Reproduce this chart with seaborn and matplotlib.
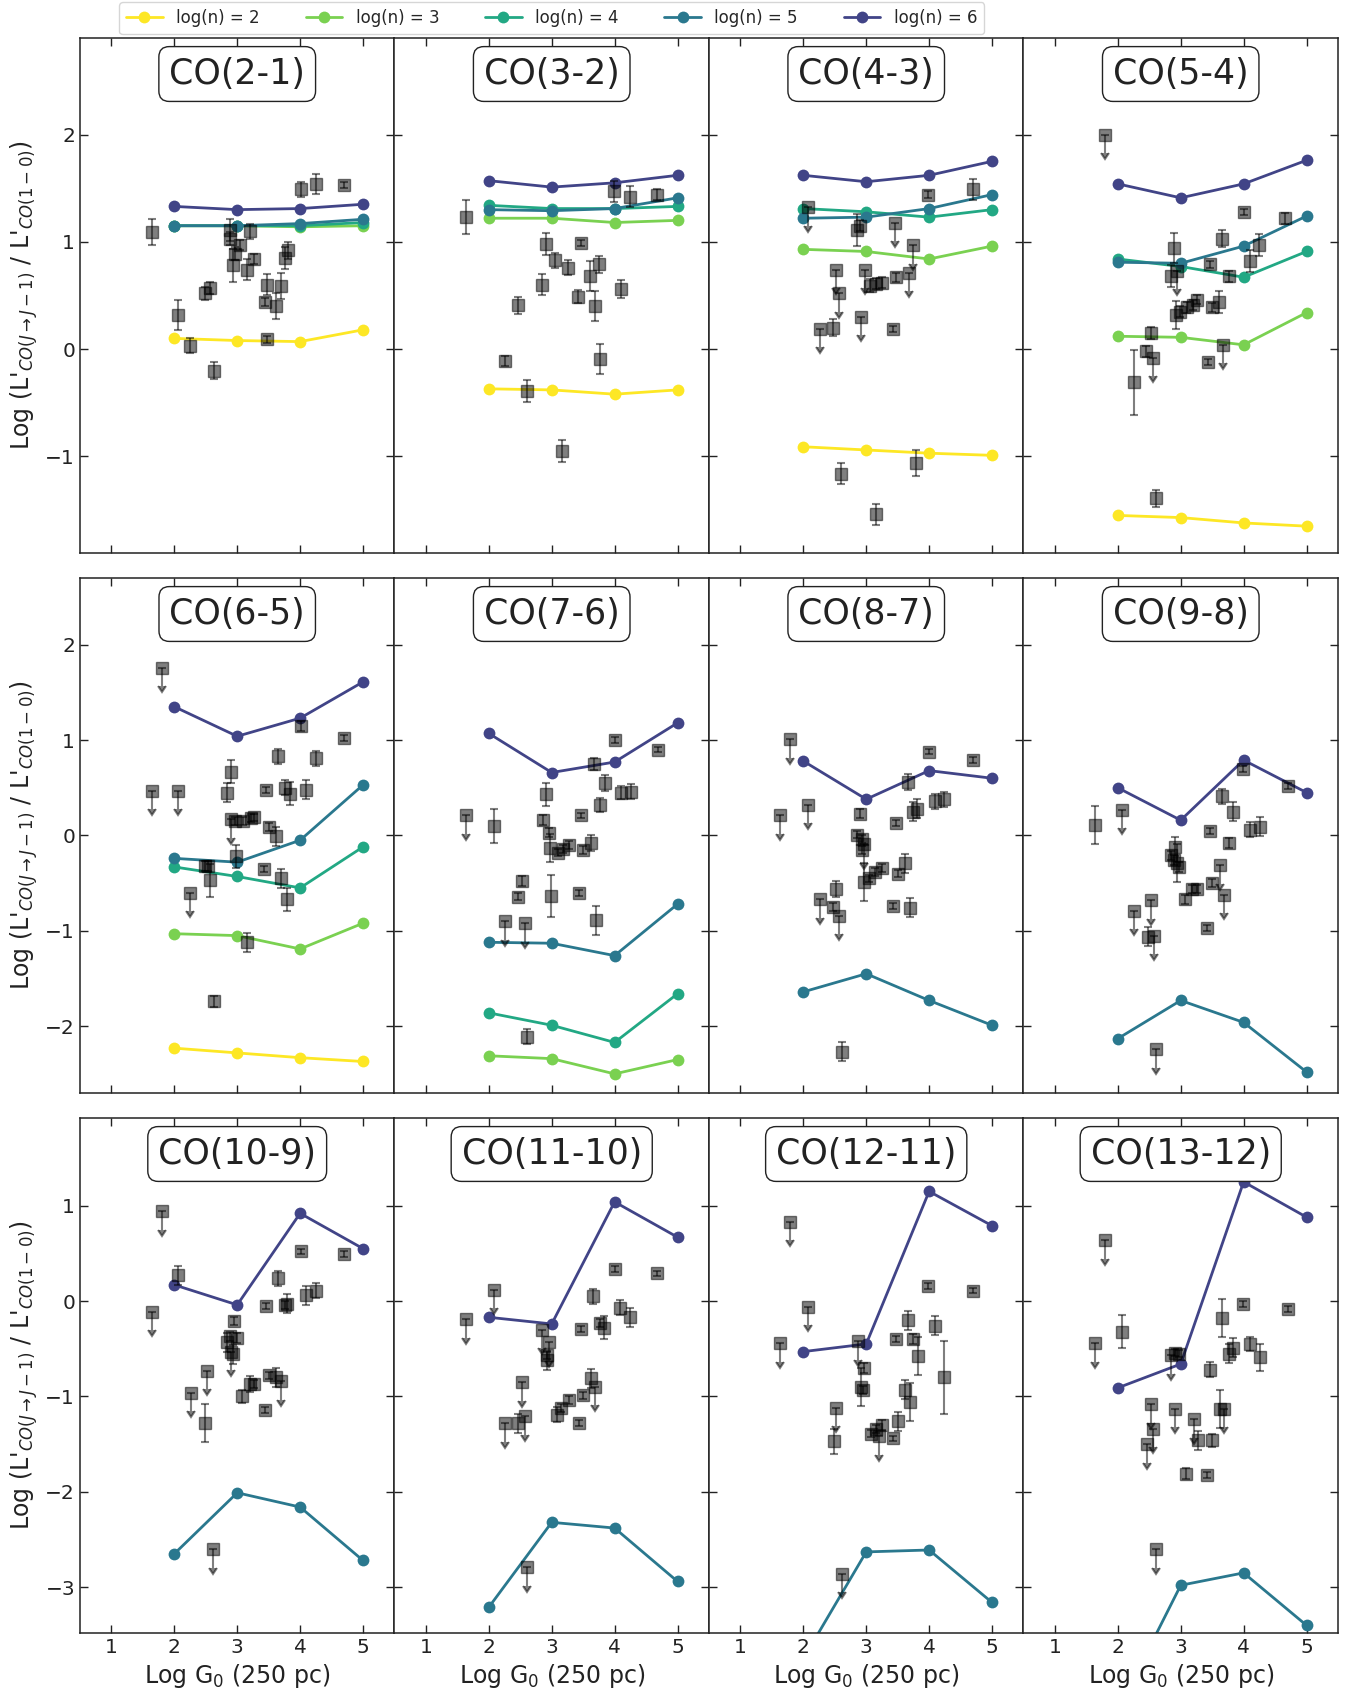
import numpy as np
import pandas as pd
import matplotlib
matplotlib.use('Agg')
import matplotlib.pyplot as plt
import seaborn as sns
from matplotlib.lines import Line2D
from matplotlib.ticker import MultipleLocator

# ==========================================
# DATA
# ==========================================
G0_GRID = [2, 3, 4, 5]          # model grid, Log G0
DENSITIES = [2, 3, 4, 5, 6]     # log(n)

# observed points: (log G0, log ratio, error, upper limit flag)
OBS_CO21 = [
    (1.64, 1.09, 0.12, 0), (2.06, 0.32, 0.14, 0), (2.25, 0.03, 0.07, 0),
    (2.48, 0.52, 0.06, 0), (2.56, 0.57, 0.06, 0), (2.63, -0.20, 0.08, 0),
    (2.88, 1.11, 0.10, 0), (2.89, 1.03, 0.06, 0), (2.93, 0.78, 0.15, 0),
    (2.97, 0.89, 0.06, 0), (3.04, 0.97, 0.05, 0), (3.15, 0.74, 0.10, 0),
    (3.20, 1.10, 0.07, 0), (3.26, 0.84, 0.05, 0), (3.44, 0.44, 0.04, 0),
    (3.48, 0.09, 0.03, 0), (3.48, 0.60, 0.10, 0), (3.61, 0.40, 0.12, 0),
    (3.69, 0.59, 0.12, 0), (3.76, 0.85, 0.10, 0), (3.80, 0.92, 0.08, 0),
    (4.01, 1.49, 0.07, 0), (4.25, 1.54, 0.09, 0), (4.69, 1.53, 0.03, 0),
]
OBS_CO32 = [
    (1.63, 1.23, 0.16, 0), (2.26, -0.11, 0.05, 0), (2.46, 0.41, 0.08, 0),
    (2.61, -0.39, 0.10, 0), (2.85, 0.60, 0.10, 0), (2.91, 0.98, 0.10, 0),
    (3.06, 0.83, 0.07, 0), (3.16, -0.95, 0.10, 0), (3.26, 0.76, 0.07, 0),
    (3.42, 0.49, 0.06, 0), (3.46, 0.99, 0.03, 0), (3.61, 0.68, 0.14, 0),
    (3.69, 0.40, 0.14, 0), (3.75, 0.79, 0.08, 0), (3.77, -0.09, 0.14, 0),
    (3.99, 1.47, 0.10, 0), (4.10, 0.56, 0.08, 0), (4.25, 1.42, 0.10, 0),
    (4.68, 1.44, 0.05, 0),
]
OBS_CO43 = [
    (2.08, 1.32, 0, 1), (2.26, 0.19, 0, 1), (2.47, 0.20, 0.08, 0),
    (2.52, 0.74, 0, 1), (2.56, 0.52, 0, 1), (2.60, -1.16, 0.10, 0),
    (2.86, 1.11, 0.15, 0), (2.90, 1.15, 0.05, 0), (2.92, 0.30, 0, 1),
    (2.98, 0.74, 0, 1), (3.06, 0.59, 0.06, 0), (3.15, 0.61, 0.05, 0),
    (3.25, 0.62, 0.05, 0), (3.16, -1.54, 0.10, 0), (3.43, 0.19, 0.03, 0),
    (3.46, 1.18, 0, 1), (3.48, 0.67, 0.04, 0), (3.68, 0.71, 0, 1),
    (3.75, 0.97, 0, 1), (3.79, -1.06, 0.12, 0), (3.99, 1.44, 0.03, 0),
    (4.69, 1.49, 0.10, 0),
]
OBS_CO54 = [
    (1.79, 2.00, 0, 1), (2.25, -0.31, 0.30, 0), (2.45, -0.02, 0.05, 0),
    (2.53, 0.15, 0.06, 0), (2.56, -0.08, 0, 1), (2.60, -1.39, 0.08, 0),
    (2.90, 0.94, 0.14, 0), (2.85, 0.68, 0.10, 0), (2.94, 0.73, 0, 1),
    (2.93, 0.32, 0.13, 0), (2.99, 0.35, 0.05, 0), (3.10, 0.39, 0.05, 0),
    (3.19, 0.41, 0.05, 0), (3.26, 0.46, 0.04, 0), (3.43, -0.12, 0.03, 0),
    (3.47, 0.79, 0.03, 0), (3.49, 0.39, 0.04, 0), (3.61, 0.44, 0.10, 0),
    (3.66, 1.03, 0.08, 0), (3.68, 0.04, 0, 1), (3.76, 0.68, 0.05, 0),
    (4.00, 1.28, 0.03, 0), (4.10, 0.82, 0.10, 0), (4.25, 0.97, 0.10, 0),
    (4.66, 1.22, 0.05, 0),
]
OBS_CO65 = [
    (1.80, 1.76, 0, 1), (1.64, 0.47, 0, 1), (2.06, 0.47, 0, 1),
    (2.25, -0.60, 0, 1), (2.48, -0.32, 0.05, 0), (2.53, -0.32, 0.05, 0),
    (2.56, -0.47, 0.17, 0), (2.63, -1.74, 0.06, 0), (2.84, 0.45, 0.10, 0),
    (2.90, 0.67, 0.12, 0), (2.90, 0.17, 0, 1), (2.96, 0.15, 0.04, 0),
    (2.98, -0.22, 0.12, 0), (3.09, 0.15, 0.04, 0), (3.16, -1.12, 0.10, 0),
    (3.22, 0.18, 0.04, 0), (3.27, 0.19, 0.04, 0), (3.43, -0.35, 0.03, 0),
    (3.46, 0.48, 0.03, 0), (3.51, 0.09, 0.04, 0), (3.61, -0.01, 0.10, 0),
    (3.65, 0.83, 0.08, 0), (3.70, -0.45, 0.10, 0), (3.76, 0.50, 0.08, 0),
    (3.79, -0.67, 0.12, 0), (3.84, 0.44, 0.12, 0), (4.01, 1.15, 0.05, 0),
    (4.10, 0.48, 0.10, 0), (4.25, 0.81, 0.08, 0), (4.69, 1.02, 0.03, 0),
]
OBS_CO76 = [
    (1.64, 0.21, 0, 1), (2.09, 0.10, 0.18, 0), (2.26, -0.90, 0, 1),
    (2.53, -0.48, 0.05, 0), (2.47, -0.64, 0.04, 0), (2.57, -0.92, 0, 1),
    (2.61, -2.11, 0.08, 0), (2.86, 0.16, 0.05, 0), (2.91, 0.43, 0.12, 0),
    (2.95, 0.03, 0.05, 0), (2.97, -0.13, 0.15, 0), (2.99, -0.63, 0.22, 0),
    (3.10, -0.18, 0.04, 0), (3.18, -0.14, 0.04, 0), (3.27, -0.10, 0.04, 0),
    (3.43, -0.60, 0.03, 0), (3.47, 0.21, 0.03, 0), (3.49, -0.15, 0.04, 0),
    (3.62, -0.08, 0.08, 0), (3.67, 0.75, 0.06, 0), (3.70, -0.89, 0.15, 0),
    (3.76, 0.32, 0.07, 0), (3.84, 0.55, 0.08, 0), (4.01, 1.00, 0.03, 0),
    (4.10, 0.45, 0.07, 0), (4.26, 0.46, 0.08, 0), (4.69, 0.90, 0.03, 0),
]
OBS_CO87 = [
    (1.79, 1.01, 0, 1), (1.63, 0.21, 0, 1), (2.07, 0.32, 0, 1),
    (2.26, -0.67, 0, 1), (2.47, -0.75, 0.04, 0), (2.52, -0.56, 0.08, 0),
    (2.56, -0.84, 0, 1), (2.61, -2.27, 0.10, 0), (2.90, 0.23, 0.05, 0),
    (2.86, 0.01, 0.04, 0), (2.93, -0.04, 0.04, 0), (2.96, -0.09, 0, 1),
    (2.93, -0.15, 0.04, 0), (2.96, -0.49, 0.20, 0), (3.05, -0.45, 0.04, 0),
    (3.14, -0.38, 0.04, 0), (3.25, -0.34, 0.04, 0), (3.42, -0.74, 0.03, 0),
    (3.48, 0.13, 0.03, 0), (3.50, -0.40, 0.04, 0), (3.62, -0.29, 0.10, 0),
    (3.66, 0.56, 0.08, 0), (3.69, -0.76, 0.10, 0), (3.75, 0.25, 0.10, 0),
    (3.81, 0.28, 0.10, 0), (4.00, 0.88, 0.03, 0), (4.10, 0.36, 0.08, 0),
    (4.24, 0.38, 0.08, 0), (4.69, 0.79, 0.03, 0),
]
OBS_CO98 = [
    (1.63, 0.11, 0.20, 0), (2.07, 0.27, 0, 1), (2.26, -0.79, 0, 1),
    (2.52, -0.68, 0, 1), (2.48, -1.06, 0.10, 0), (2.57, -1.05, 0, 1),
    (2.61, -2.24, 0, 1), (2.84, -0.21, 0.05, 0), (2.91, -0.12, 0.10, 0),
    (2.94, -0.29, 0.20, 0), (2.89, -0.26, 0.05, 0), (2.97, -0.33, 0.05, 0),
    (3.07, -0.67, 0.05, 0), (3.18, -0.56, 0.04, 0), (3.26, -0.56, 0.04, 0),
    (3.42, -0.97, 0.03, 0), (3.46, 0.05, 0.03, 0), (3.49, -0.50, 0.04, 0),
    (3.62, -0.31, 0, 1), (3.65, 0.41, 0.08, 0), (3.69, -0.62, 0, 1),
    (3.76, -0.08, 0.05, 0), (3.83, 0.25, 0.10, 0), (3.99, 0.70, 0.03, 0),
    (4.10, 0.06, 0.08, 0), (4.26, 0.09, 0.10, 0), (4.70, 0.52, 0.03, 0),
]
OBS_CO109 = [
    (1.80, 0.94, 0, 1), (1.64, -0.11, 0, 1), (2.06, 0.27, 0.10, 0),
    (2.26, -0.96, 0, 1), (2.52, -0.73, 0, 1), (2.48, -1.28, 0.20, 0),
    (2.61, -2.60, 0, 1), (2.84, -0.43, 0.10, 0), (2.89, -0.37, 0.05, 0),
    (2.93, -0.56, 0.10, 0), (2.95, -0.21, 0.04, 0), (3.00, -0.39, 0.05, 0),
    (2.90, -0.53, 0, 1), (3.08, -1.00, 0.07, 0), (3.20, -0.87, 0.08, 0),
    (3.26, -0.87, 0.04, 0), (3.44, -1.14, 0.03, 0), (3.46, -0.05, 0.03, 0),
    (3.50, -0.78, 0.04, 0), (3.61, -0.80, 0.10, 0), (3.65, 0.24, 0.08, 0),
    (3.70, -0.84, 0, 1), (3.76, -0.04, 0.04, 0), (3.79, -0.03, 0.10, 0),
    (4.01, 0.52, 0.03, 0), (4.09, 0.06, 0.10, 0), (4.25, 0.11, 0.08, 0),
    (4.69, 0.49, 0.03, 0),
]
OBS_CO1110 = [
    (1.64, -0.19, 0, 1), (2.08, 0.12, 0, 1), (2.26, -1.28, 0, 1),
    (2.46, -1.28, 0.10, 0), (2.53, -0.85, 0, 1), (2.58, -1.21, 0, 1),
    (2.61, -2.79, 0, 1), (2.85, -0.30, 0, 1), (2.96, -0.43, 0, 1),
    (2.92, -0.62, 0.10, 0), (2.93, -0.57, 0.04, 0), (3.08, -1.19, 0.08, 0),
    (3.14, -1.12, 0.04, 0), (3.27, -1.04, 0.04, 0), (3.43, -1.28, 0.03, 0),
    (3.46, -0.29, 0.03, 0), (3.49, -0.99, 0.04, 0), (3.63, -0.81, 0.10, 0),
    (3.65, 0.05, 0.08, 0), (3.69, -0.90, 0, 1), (3.76, -0.23, 0.04, 0),
    (3.83, -0.28, 0.12, 0), (4.00, 0.34, 0.03, 0), (4.08, -0.07, 0.08, 0),
    (4.24, -0.17, 0.10, 0), (4.68, 0.29, 0.03, 0),
]
OBS_CO1211 = [
    (1.79, 0.83, 0, 1), (1.63, -0.44, 0, 1), (2.07, -0.06, 0, 1),
    (2.48, -1.47, 0.13, 0), (2.52, -1.12, 0, 1), (2.61, -2.86, 0, 1),
    (2.87, -0.42, 0, 1), (2.92, -0.90, 0.20, 0), (2.97, -0.70, 0.05, 0),
    (2.95, -0.93, 0.04, 0), (3.07, -1.39, 0.04, 0), (3.16, -1.34, 0.04, 0),
    (3.25, -1.30, 0.05, 0), (3.21, -1.42, 0, 1), (3.42, -1.44, 0.03, 0),
    (3.47, -0.40, 0.03, 0), (3.50, -1.26, 0.10, 0), (3.62, -0.93, 0.10, 0),
    (3.66, -0.20, 0.10, 0), (3.69, -1.06, 0.20, 0), (3.75, -0.40, 0.05, 0),
    (3.83, -0.58, 0.20, 0), (3.99, 0.16, 0.03, 0), (4.10, -0.26, 0.10, 0),
    (4.24, -0.80, 0.38, 0), (4.69, 0.11, 0.03, 0),
]
OBS_CO1312 = [
    (1.79, 0.64, 0, 1), (1.63, -0.44, 0, 1), (2.07, -0.32, 0.17, 0),
    (2.52, -1.08, 0, 1), (2.56, -1.34, 0, 1), (2.47, -1.50, 0, 1),
    (2.61, -2.60, 0, 1), (2.84, -0.57, 0, 1), (2.91, -0.54, 0.04, 0),
    (2.98, -0.55, 0.04, 0), (2.91, -1.13, 0, 1), (3.09, -1.81, 0.06, 0),
    (3.21, -1.24, 0, 1), (3.27, -1.46, 0.10, 0), (3.42, -1.82, 0.03, 0),
    (3.47, -0.72, 0.08, 0), (3.50, -1.46, 0.07, 0), (3.62, -1.13, 0.20, 0),
    (3.66, -0.18, 0.20, 0), (3.69, -1.13, 0, 1), (3.77, -0.55, 0.10, 0),
    (3.83, -0.49, 0.10, 0), (3.99, -0.03, 0.03, 0), (4.10, -0.45, 0.07, 0),
    (4.26, -0.59, 0.14, 0), (4.70, -0.08, 0.03, 0),
]

# PDR models: log(n) -> ratio at G0_GRID
MOD_CO21 = {2: [0.10, 0.08, 0.07, 0.18], 3: [1.15, 1.15, 1.14, 1.15],
            4: [1.15, 1.15, 1.15, 1.18], 5: [1.15, 1.15, 1.17, 1.21],
            6: [1.33, 1.30, 1.31, 1.35]}
MOD_CO32 = {2: [-0.37, -0.38, -0.42, -0.38], 3: [1.22, 1.22, 1.18, 1.20],
            4: [1.34, 1.31, 1.31, 1.33], 5: [1.30, 1.29, 1.31, 1.41],
            6: [1.57, 1.51, 1.55, 1.62]}
MOD_CO43 = {2: [-0.91, -0.94, -0.97, -0.99], 3: [0.93, 0.91, 0.84, 0.96],
            4: [1.31, 1.28, 1.23, 1.30], 5: [1.22, 1.23, 1.31, 1.44],
            6: [1.62, 1.56, 1.62, 1.75]}
MOD_CO54 = {2: [-1.55, -1.57, -1.62, -1.65], 3: [0.12, 0.11, 0.04, 0.34],
            4: [0.84, 0.77, 0.67, 0.91], 5: [0.81, 0.80, 0.96, 1.24],
            6: [1.54, 1.41, 1.54, 1.76]}
MOD_CO65 = {2: [-2.23, -2.28, -2.33, -2.37], 3: [-1.03, -1.05, -1.19, -0.92],
            4: [-0.33, -0.43, -0.55, -0.12], 5: [-0.24, -0.28, -0.05, 0.53],
            6: [1.35, 1.04, 1.23, 1.61]}
MOD_CO76 = {3: [-2.31, -2.34, -2.50, -2.35], 4: [-1.86, -1.99, -2.17, -1.66],
            5: [-1.12, -1.13, -1.26, -0.72], 6: [1.07, 0.66, 0.77, 1.18]}
MOD_CO87 = {5: [-1.64, -1.45, -1.73, -1.99], 6: [0.78, 0.38, 0.68, 0.60]}
MOD_CO98 = {5: [-2.13, -1.73, -1.96, -2.48], 6: [0.50, 0.16, 0.79, 0.45]}
MOD_CO109 = {5: [-2.65, -2.01, -2.16, -2.72], 6: [0.17, -0.04, 0.92, 0.55]}
MOD_CO1110 = {5: [-3.21, -2.32, -2.38, -2.94], 6: [-0.17, -0.24, 1.04, 0.67]}
MOD_CO1211 = {5: [-3.75, -2.63, -2.61, -3.16], 6: [-0.53, -0.45, 1.15, 0.79]}
MOD_CO1312 = {5: [-4.29, -2.98, -2.85, -3.40], 6: [-0.91, -0.66, 1.25, 0.88]}

PANEL_TITLES = ["CO(2-1)", "CO(3-2)", "CO(4-3)", "CO(5-4)",
                "CO(6-5)", "CO(7-6)", "CO(8-7)", "CO(9-8)",
                "CO(10-9)", "CO(11-10)", "CO(12-11)", "CO(13-12)"]
PANEL_OBS = [OBS_CO21, OBS_CO32, OBS_CO43, OBS_CO54, OBS_CO65, OBS_CO76,
             OBS_CO87, OBS_CO98, OBS_CO109, OBS_CO1110, OBS_CO1211, OBS_CO1312]
PANEL_MOD = [MOD_CO21, MOD_CO32, MOD_CO43, MOD_CO54, MOD_CO65, MOD_CO76,
             MOD_CO87, MOD_CO98, MOD_CO109, MOD_CO1110, MOD_CO1211, MOD_CO1312]
ROW_YLIM = [(-1.9, 2.9), (-2.7, 2.7), (-3.48, 1.92)]

PALETTE = {2: '#fde725', 3: '#7ad151', 4: '#22a884', 5: '#2a788e', 6: '#414487'}

YLABEL = r"Log (L$'_{CO(J\rightarrow J-1)}$ / L$'_{CO(1-0)}$)"
XLABEL = r"Log G$_0$ (250 pc)"


def models_frame(mod: dict) -> pd.DataFrame:
    rows = []
    for dens, vals in mod.items():
        for g, v in zip(G0_GRID, vals):
            rows.append({"G0": g, "ratio": v, "density": dens})
    return pd.DataFrame(rows)


def draw_panel(ax, title, obs, mod, ylim):
    df = models_frame(mod)
    sns.lineplot(data=df, x="G0", y="ratio", hue="density", palette=PALETTE,
                 marker="o", markersize=8.5, markeredgewidth=0, linewidth=2,
                 errorbar=None, legend=False, ax=ax)

    obs = np.array(obs, dtype=float)
    x, y, err, ul = obs.T
    ul = ul.astype(bool)
    arrow = 0.036 * (ylim[1] - ylim[0])
    lower = np.where(ul, arrow, err)
    upper = np.where(ul, 0.0, err)
    ax.errorbar(x, y, yerr=[lower, upper], uplims=ul, fmt="s", color="k",
                alpha=0.5, ms=8, capsize=3, elinewidth=1.5, capthick=1.5,
                zorder=3)

    ax.text(0.5, 0.93, title, transform=ax.transAxes, ha="center", va="center",
            fontsize=25, color="#222222", zorder=5,
            bbox=dict(boxstyle="round,pad=0.3", fc="white", ec="#222222", lw=1))

    ax.set_xlim(0.5, 5.5)
    ax.set_ylim(*ylim)
    ax.set_xticks([1, 2, 3, 4, 5])
    ax.yaxis.set_major_locator(MultipleLocator(1))
    ax.tick_params(direction="in", top=True, right=True, length=6, width=1,
                   labelsize=14.5, colors="#222222")
    ax.set_xlabel("")
    ax.set_ylabel("")


if __name__ == "__main__":
    sns.set_style("ticks")
    plt.rcParams["font.family"] = ["DejaVu Sans"]
    plt.rcParams["axes.edgecolor"] = "#222222"
    plt.rcParams["axes.linewidth"] = 1.1

    fig, axes = plt.subplots(3, 4, figsize=(13.6, 16.95), dpi=100)
    fig.subplots_adjust(left=0.0588, right=0.9838, top=0.9776, bottom=0.0366,
                        wspace=0.0, hspace=0.0485)

    for i, ax in enumerate(axes.flat):
        row, col = divmod(i, 4)
        draw_panel(ax, PANEL_TITLES[i], PANEL_OBS[i], PANEL_MOD[i], ROW_YLIM[row])
        if col != 0:
            ax.tick_params(labelleft=False)
        else:
            ax.set_ylabel(YLABEL, fontsize=17, color="#222222")
        if row != 2:
            ax.tick_params(labelbottom=False)
        else:
            ax.set_xlabel(XLABEL, fontsize=17, color="#222222")

    handles = [Line2D([], [], color=PALETTE[d], marker="o", ms=8.5, lw=2,
                      markeredgewidth=0) for d in DENSITIES]
    labels = [f"log(n) = {d}" for d in DENSITIES]
    fig.legend(handles, labels, loc="upper left", bbox_to_anchor=(0.086, 1.0),
               ncol=5, fontsize=12, columnspacing=2.75, handlelength=2.2,
               frameon=True, fancybox=True, borderaxespad=0.15)

    fig.savefig("out.png", dpi=100)
    print("Saved out.png")
